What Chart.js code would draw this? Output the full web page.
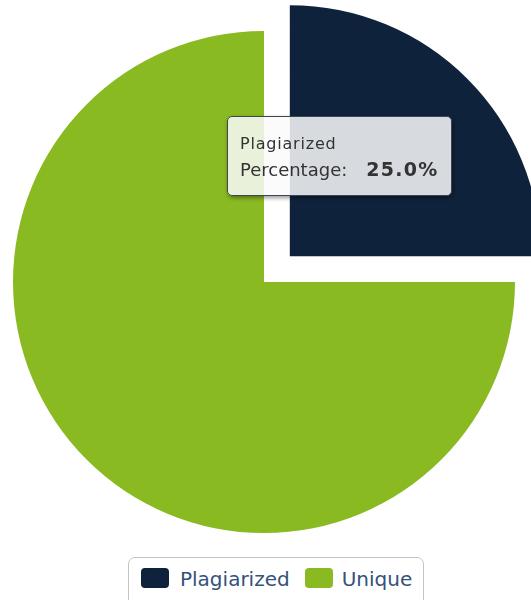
<!DOCTYPE html>
<html>
<head>
<meta charset="utf-8">
<script src="https://cdn.jsdelivr.net/npm/chart.js@4.4.1/dist/chart.umd.min.js"></script>
<style>
  body { margin: 0; background: #fff; overflow: hidden; }
  #wrap { position: relative; width: 531px; height: 600px; overflow: hidden; }
  canvas.piechart { position: absolute; left: -60px; top: -42px; }
  #legend {
    position: absolute; left: 128px; top: 557px;
    border: 1px solid #c4c4c4; border-radius: 7px;
    padding: 9px 11px 14px 12px; background: #fff;
    font-family: "DejaVu Sans", Verdana, sans-serif; font-size: 20px; line-height: 24px; color: #34527a;
    white-space: nowrap;
  }
  #legend .item { display: inline-block; margin-right: 15px; }
  #legend .item:last-child { margin-right: 0; }
  #legend .sw { display: inline-block; width: 28px; height: 20px; border-radius: 4px; vertical-align: -2px; margin-right: 11px; }
  #legend .item:last-child .sw { margin-right: 9px; }
  #tip {
    position: absolute; opacity: 0; pointer-events: none; box-sizing: border-box;
    width: 225px; height: 80px;
    background: rgba(250, 250, 252, 0.85); border: 1px solid #3c4652; border-radius: 5px;
    box-shadow: 1px 2px 4px rgba(0,0,0,0.4);
    padding: 17px 10px 0 12px;
    font-family: "DejaVu Sans", Verdana, sans-serif; color: #333; white-space: nowrap;
  }
  #tip .t { font-size: 16px; line-height: 20px; letter-spacing: 0.8px; margin-bottom: 4px; }
  #tip .b { font-size: 18px; line-height: 22px; }
  #tip .b b { font-size: 19px; letter-spacing: 1.3px; margin-left: 19px; }
</style>
</head>
<body>
<div id="wrap">
  <canvas class="piechart" width="648" height="648"></canvas>
  <div id="tip"></div>
  <div id="legend"></div>
</div>
<script>
// plagiarism pie
const piechart = document.querySelector('canvas.piechart');

const labels = ['Plagiarized', 'Unique'];
const values = [25, 75];
const colors = ['#0e233b', '#8aba21'];
// chart.js moves a quarter slice by offset / 4
const sliceOffsets = [146, 0];

function externalTip(context) {
  const tip = document.getElementById('tip');
  const model = context.tooltip;
  if (model.opacity === 0) { tip.style.opacity = 0; return; }
  const idx = model.dataPoints[0].dataIndex;
  const total = values.reduce((a, b) => a + b, 0);
  const pct = (values[idx] / total * 100).toFixed(1) + '%';
  tip.innerHTML = '<div class="t">' + labels[idx] + '</div>' +
    '<div class="b">Percentage:<b>' + pct + '</b></div>';
  const cx = piechart.offsetLeft + model.caretX;
  const cy = piechart.offsetTop + model.caretY;
  tip.style.left = (cx - 177.4) + 'px';
  tip.style.top = (cy - 25.6) + 'px';
  tip.style.opacity = 1;
}

const chart = new Chart(piechart, {
  type: 'pie',
  data: {
    labels: labels,
    datasets: [{
      data: values,
      backgroundColor: colors,
      hoverBackgroundColor: colors,
      borderWidth: 0,
      hoverBorderWidth: 0,
      offset: sliceOffsets,
      hoverOffset: sliceOffsets
    }]
  },
  options: {
    responsive: false,
    animation: false,
    events: [],
    layout: { padding: 0 },
    plugins: {
      legend: { display: false },
      tooltip: { enabled: false, external: externalTip }
    }
  }
});

// html legend
const legend = document.getElementById('legend');
labels.forEach((name, i) => {
  const item = document.createElement('span');
  item.className = 'item';
  item.innerHTML = '<span class="sw" style="background:' + colors[i] + '"></span>' + name;
  legend.appendChild(item);
});

// show tooltip for the plagiarized slice
const active = [{ datasetIndex: 0, index: 0 }];
chart.setActiveElements(active);
chart.tooltip.setActiveElements(active, { x: 0, y: 0 });
chart.update();
</script>
</body>
</html>
